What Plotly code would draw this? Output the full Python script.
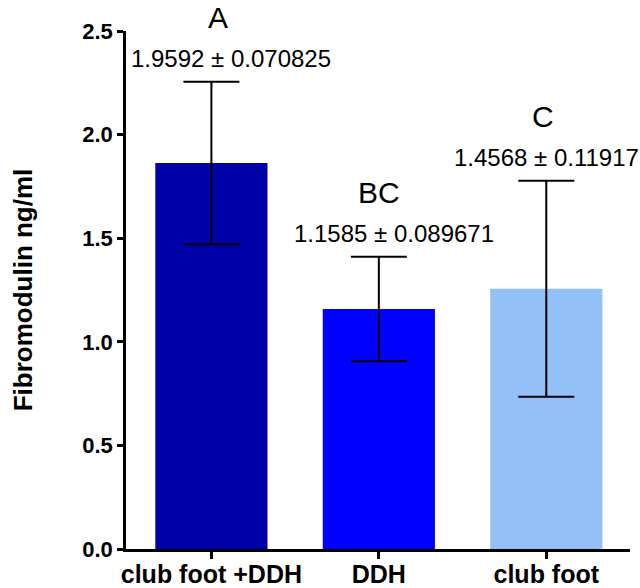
import plotly.graph_objects as go

categories = ["club foot +DDH", "DDH", "club foot"]
means = [1.863, 1.158, 1.256]
errors = [0.392, 0.252, 0.521]
letters = ["A", "BC", "C"]
labels = ["1.9592 ± 0.070825", "1.1585 ± 0.089671", "1.4568 ± 0.11917"]
colors = ["#0000A8", "#0000FF", "#93C0F7"]
y_ticks = [0.0, 0.5, 1.0, 1.5, 2.0, 2.5]
y_ticklabels = ["0.0", "0.5", "1.0", "1.5", "2.0", "2.5"]

# horizontal offsets (px) of the text labels relative to bar centres (style only)
label_xshift = [20, 15, 0]
letter_xshift = [7, 0, -3]

FONT = "Liberation Sans, Arial"

fig = go.Figure()
fig.add_trace(go.Bar(
    x=categories, y=means, width=0.67,
    marker=dict(color=colors, line=dict(width=0)),
    error_y=dict(type="data", array=errors, visible=True, color="black", thickness=2, width=28),
))

for c, m, e, lt, lb, lx, tx in zip(categories, means, errors, letters, labels, label_xshift, letter_xshift):
    fig.add_annotation(x=c, y=m + e, text=lb, showarrow=False, yanchor="middle", yshift=23, xshift=lx,
                       font=dict(family=FONT, size=24, color="black"))
    fig.add_annotation(x=c, y=m + e, text=lt, showarrow=False, yanchor="middle", yshift=64, xshift=tx,
                       font=dict(family=FONT, size=30, color="black"))

fig.update_layout(
    width=640, height=588,
    margin=dict(l=126, r=10, t=31, b=39, autoexpand=False),
    plot_bgcolor="white", paper_bgcolor="white",
    showlegend=False,
    font=dict(family=FONT, color="black"),
)
fig.update_xaxes(
    range=[-0.51, 2.5], showline=True, linecolor="black", linewidth=2.5,
    ticks="outside", ticklen=7, tickwidth=2.5, tickcolor="black",
    tickfont=dict(size=25, family=FONT, color="black", weight="bold"),
    ticklabelstandoff=-6,
    showgrid=False, zeroline=False, automargin=False,
)
fig.update_yaxes(
    range=[0, 2.5], tickvals=y_ticks, ticktext=y_ticklabels, showline=True,
    linecolor="black", linewidth=2.5, ticks="outside", ticklen=6, tickwidth=2.5, tickcolor="black",
    tickfont=dict(size=22, family=FONT, color="black", weight="bold"),
    title=dict(text="Fibromodulin ng/ml", font=dict(size=26, family=FONT, color="black", weight="bold"), standoff=43),
    showgrid=False, zeroline=False, automargin=False,
)

fig.write_html("out.html", config={"displayModeBar": False},
               post_script="document.body.style.margin='0';")
